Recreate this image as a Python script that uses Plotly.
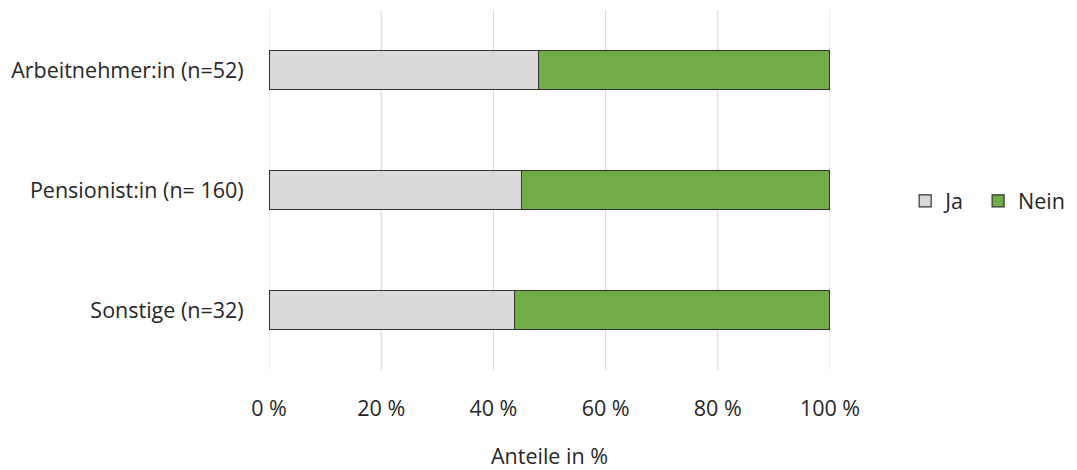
import plotly.graph_objects as go

# Befragte Gruppen (von oben nach unten) und Antwortanteile in %
gruppen = ["Arbeitnehmer:in (n=52)", "Pensionist:in (n= 160)", "Sonstige (n=32)"]
ja = [48.1, 45.0, 43.75]
nein = [51.9, 55.0, 56.25]
x_ticks = [0, 20, 40, 60, 80, 100]
x_ticktext = [f"{v} %" for v in x_ticks]

FONT = "'Open Sans', sans-serif"
FS = 21.5

fig = go.Figure()
fig.add_trace(go.Bar(
    y=gruppen, x=ja, name="Ja", orientation="h",
    marker=dict(color="#d9d9d9", line=dict(color="#333333", width=1.2)),
    width=0.32, legend="legend",
))
fig.add_trace(go.Bar(
    y=gruppen, x=nein, name="Nein", orientation="h",
    marker=dict(color="#70ad47", line=dict(color="#333333", width=1.2)),
    width=0.32, legend="legend2",
))

# vertikale Gitterlinien, auch an den Rändern 0 % und 100 %
for v in x_ticks:
    fig.add_shape(type="line", xref="x", yref="paper", x0=v, x1=v, y0=0, y1=1,
                  line=dict(color="#d9d9d9", width=1), layer="below")

legend_style = dict(
    orientation="h", y=0.47, yanchor="middle",
    font=dict(size=FS), itemwidth=30, bgcolor="rgba(0,0,0,0)",
)

fig.update_layout(
    width=1077, height=470,
    barmode="stack",
    plot_bgcolor="white", paper_bgcolor="white",
    margin=dict(l=269, r=247, t=10, b=100, autoexpand=False),
    font=dict(family=FONT, size=FS, color="#262626"),
    showlegend=True,
    legend=dict(x=1.134, xanchor="left", **legend_style),
    legend2=dict(x=1.428, xanchor="right", **legend_style),
    xaxis=dict(
        range=[0, 100], tickvals=x_ticks, ticktext=x_ticktext,
        showgrid=False, zeroline=False, showline=False,
        ticks="outside", ticklen=19, tickcolor="rgba(0,0,0,0)",
        automargin=False,
        title=dict(text="Anteile in %", standoff=30, font=dict(size=FS)),
    ),
    yaxis=dict(
        categoryorder="array", categoryarray=gruppen[::-1],
        range=[-0.5, 2.5], automargin=False,
        showgrid=False, zeroline=False, showline=False,
        ticks="outside", ticklen=20, tickcolor="rgba(0,0,0,0)",
    ),
)

fig.write_html("out.html")
